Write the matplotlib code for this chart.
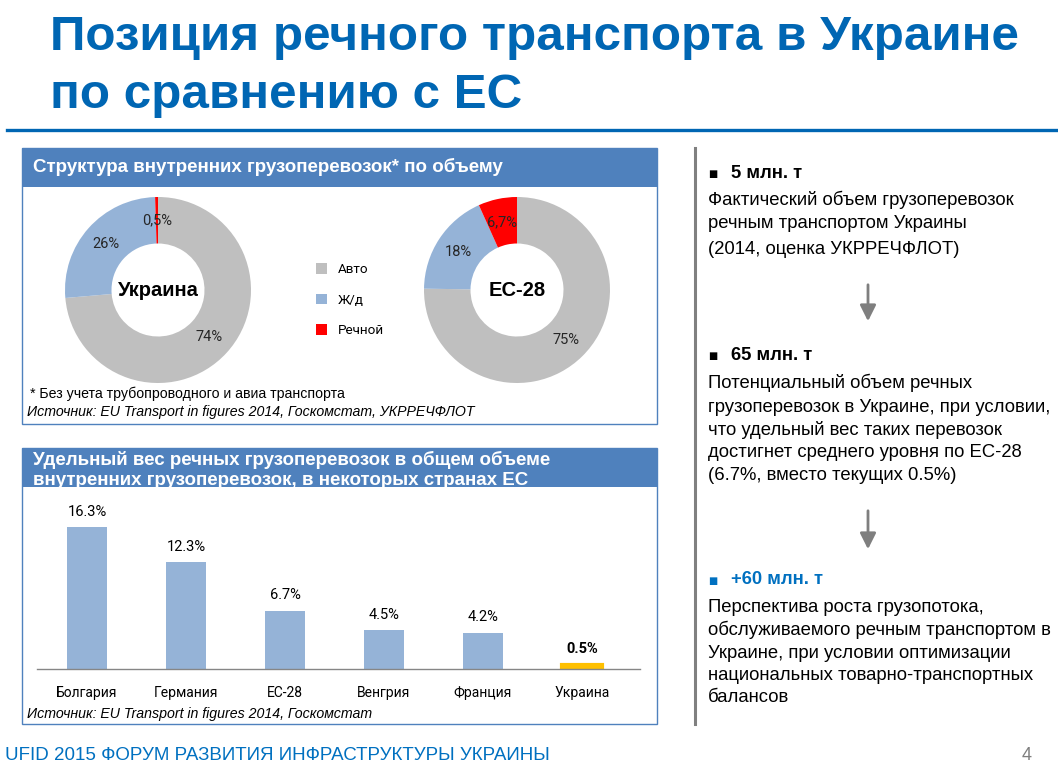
import matplotlib
matplotlib.use("Agg")
import matplotlib.pyplot as plt
from matplotlib.patches import Rectangle, FancyArrowPatch
from matplotlib.lines import Line2D

# --- data ---
modes = ["Авто", "Ж/д", "Речной"]
ukraine_share = [74, 26, 0.5]
eu_share = [75, 18, 6.7]

countries = ["Болгария", "Германия", "ЕС-28", "Венгрия", "Франция", "Украина"]
river_share = [16.3, 12.3, 6.7, 4.5, 4.2, 0.5]

mode_colors = ["#BFBFBF", "#95B3D7", "#FF0000"]
bar_colors = ["#95B3D7"] * 5 + ["#FFC000"]

W, H = 1058, 784
NARROW = ["Liberation Sans Narrow", "Liberation Sans", "DejaVu Sans"]
ARIAL = ["Liberation Sans", "DejaVu Sans"]
LBL = ["Roboto", "DejaVu Sans"]
BLUE = "#0066B3"
HDR = "#4F81BD"

fig = plt.figure(figsize=(W / 100, H / 100), dpi=100)


def box(x0, y0, x1, y1):
    return [x0 / W, 1 - y1 / H, (x1 - x0) / W, (y1 - y0) / H]


def fx(x):
    return x / W


def fy(y):
    return 1 - y / H


def rect(x0, y0, x1, y1, z, **kw):
    r = Rectangle((fx(x0), fy(y1)), (x1 - x0) / W, (y1 - y0) / H,
                  transform=fig.transFigure, zorder=z, **kw)
    fig.add_artist(r)


def txt(x, y, s, **kw):
    kw.setdefault("va", "center")
    fig.text(fx(x), fy(y), s, **kw)


def pct(v):
    return f"{v:g}".replace(".", ",") + "%"


# title
txt(50, 37, "Позиция речного транспорта в Украине", family=NARROW,
    weight="bold", size=35.6, color=BLUE)
txt(50, 96, "по сравнению с ЕС", family=NARROW, weight="bold", size=35.6, color=BLUE)
fig.add_artist(Line2D([fx(7), 1], [fy(130), fy(130)], transform=fig.transFigure,
                      color=BLUE, lw=2.4))

# panel 1 frame
rect(22, 148, 657, 424, -3, facecolor="white", edgecolor="none")
rect(22, 148, 657, 187, -3, facecolor=HDR, edgecolor="none")
rect(22, 148, 657, 424, 1, fill=False, edgecolor=HDR, lw=1)
txt(33, 167, "Структура внутренних грузоперевозок* по объему", family=NARROW,
    weight="bold", size=13.5, color="white")

# donuts
for cx, vals, name in [(158, ukraine_share, "Украина"), (517, eu_share, "ЕС-28")]:
    ax = fig.add_axes(box(cx - 93, 197, cx + 93, 383))
    labels = iter([pct(v) for v in vals])
    wedges, _, autotexts = ax.pie(vals, colors=mode_colors, startangle=90,
                                  counterclock=False, radius=1,
                                  wedgeprops=dict(width=0.5, linewidth=0),
                                  autopct=lambda p, it=labels: next(it),
                                  pctdistance=0.75,
                                  textprops=dict(family=LBL, size=10.5, color="#262626"))
    ax.set_xlim(-1, 1)
    ax.set_ylim(-1, 1)
    ax.text(0, 0, name, ha="center", va="center", family=ARIAL, weight="bold",
            size=14.5, color="black")
    if name == "Украина":
        legend_handles = wedges

fig.legend(legend_handles, modes, loc="upper left",
           bbox_to_anchor=(fx(304), fy(251)), frameon=False,
           handlelength=0.8, handleheight=0.8, handletextpad=0.8,
           labelspacing=1.3, prop=dict(family=LBL, size=9.7))

txt(30, 394, "* Без учета трубопроводного и авиа транспорта", family=NARROW,
    size=10.2, color="black")
txt(27, 412, "Источник: EU Transport in figures 2014, Госкомстат, УКРРЕЧФЛОТ",
    family=NARROW, style="italic", size=10.2, color="black")

# panel 2 frame
rect(22, 448, 657, 724, -3, facecolor=HDR, edgecolor="none")
txt(33, 460, "Удельный вес речных грузоперевозок в общем объеме", family=NARROW,
    weight="bold", size=13.5, color="white", zorder=-2)
txt(33, 481, "внутренних грузоперевозок, в некоторых странах ЕС", family=NARROW,
    weight="bold", size=13.5, color="white", zorder=-2)
rect(22, 487, 657, 724, -1, facecolor="white", edgecolor="none")
rect(22, 448, 657, 724, 1, fill=False, edgecolor=HDR, lw=1)

ax = fig.add_axes(box(37, 497, 640, 669))
ax.set_facecolor("none")
xs = range(len(countries))
bars = ax.bar(xs, river_share, width=0.4, color=bar_colors, edgecolor=bar_colors,
              linewidth=[0] * 5 + [3])
ax.set_xlim(-0.505, 5.586)
ax.set_ylim(0, 19.8)
for s in ["top", "left", "right"]:
    ax.spines[s].set_visible(False)
ax.spines["bottom"].set_color("#868686")
ax.spines["bottom"].set_linewidth(1)
ax.set_yticks([])
ax.set_xticks(list(xs))
ax.set_xticklabels(countries, family=LBL, size=10)
ax.tick_params(axis="x", length=0, pad=12)
lbls = ax.bar_label(bars, labels=[f"{v:g}%" for v in river_share], padding=6,
                    family=LBL, size=10.5)
lbls[-1].set_weight("bold")

txt(27, 714, "Источник: EU Transport in figures 2014, Госкомстат", family=NARROW,
    style="italic", size=10.2, color="black")

# divider
fig.add_artist(Line2D([fx(695), fx(695)], [fy(148), fy(724)], transform=fig.transFigure,
                      color="#808080", lw=2.2))

# right column
blocks = [
    (173, "5 млн. т", "black",
     [(200, "Фактический объем грузоперевозок"),
      (223, "речным транспортом Украины"),
      (249, "(2014, оценка УКРРЕЧФЛОТ)")]),
    (355, "65 млн. т", "black",
     [(383, "Потенциальный объем речных"),
      (407, "грузоперевозок в Украине, при условии,"),
      (430, "что удельный вес таких перевозок"),
      (453, "достигнет среднего уровня по ЕС-28"),
      (476, "(6.7%, вместо текущих 0.5%)")]),
    (580, "+60 млн. т", "#0070C0",
     [(607, "Перспектива роста грузопотока,"),
      (630, "обслуживаемого речным транспортом в"),
      (653, "Украине, при условии оптимизации"),
      (675, "национальных товарно-транспортных"),
      (698, "балансов")]),
]
for y, head, col, lines in blocks:
    txt(708, y + 1, "■", family=["DejaVu Sans"], size=7, color=col)
    txt(731, y, head, family=ARIAL, weight="bold", size=13.3, color=col)
    for ly, s in lines:
        txt(708, ly, s, family=ARIAL, size=13.3, color="black")

for y0, y1 in [(282, 324), (508, 552)]:
    fig.add_artist(FancyArrowPatch((fx(868), fy(y0)), (fx(868), fy(y1)),
                                   transform=fig.transFigure, arrowstyle="-|>",
                                   mutation_scale=24, color="#7F7F7F", lw=2))

# footer
txt(5, 755, "UFID 2015 ФОРУМ РАЗВИТИЯ ИНФРАСТРУКТУРЫ УКРАИНЫ", family=ARIAL,
    size=13.5, color="#0070C0")
txt(1022, 755, "4", family=ARIAL, size=13, color="#7F7F7F")

fig.savefig("out.png", dpi=100)
